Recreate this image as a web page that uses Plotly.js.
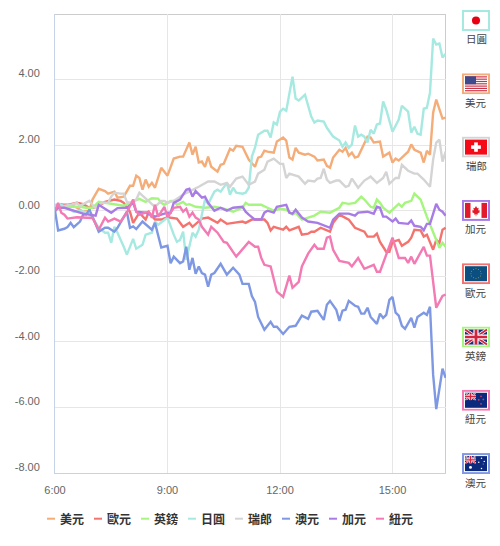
<!DOCTYPE html>
<html>
<head>
<meta charset="utf-8">
<script src="https://cdn.plot.ly/plotly-3.0.1.min.js"></script>
<style>html,body{margin:0;padding:0;background:#fff}#chart{width:500px;height:546px}</style>
</head>
<body>
<div id="chart"></div>
<script>
// Time is counted in 5-minute steps from 6:00.
var usdStep=[0,2,3,5,7,9,11,12,14,15,16,17,19,20,22,24,25,26,27,28,29,30,31,32,34,35,36,38,40,41,43,44,45,46,47,48,49,50,52,53,54,56,57,58,60,62,64,65,66,67,68,70,71,73,74,75,76,77,78,80,81,83,84,86,87,88,89,91,92,93,94,95,96,97,100,101,102,104,105,107,108,109,110,113,114,115,117,118,119,120,121,122,124,125];
var usdVal =[0,.2,.15,.18,.09,-.03,0,.34,.67,.63,.6,.52,.58,.4,.43,.76,.76,1.07,1,.64,.95,.73,.85,.7,1.31,1.19,1.07,1.59,1.65,1.65,2.08,1.71,1.95,1.47,1.5,1.34,1.65,1.34,1.19,1.4,1.43,1.89,1.83,1.98,1.95,1.56,1.34,1.62,1.65,1.83,1.8,1.77,2.11,2.23,2.14,1.62,1.56,1.92,1.77,1.71,1.74,1.65,1.53,1.56,1.37,1.31,1.62,1.86,1.8,1.92,1.68,1.77,1.62,1.65,2.26,2.23,2.08,2.11,1.65,1.77,1.47,1.59,1.53,1.8,2.02,1.86,1.77,1.47,1.83,1.71,2.99,3.39,2.81,2.84];

var eurStep=[0,2,4,7,9,11,13,15,16,19,21,22,24,25,27,29,30,32,34,36,39,41,43,44,47,49,50,52,53,55,57,60,61,63,65,67,68,69,70,73,74,75,78,79,81,82,83,85,88,89,91,94,96,99,100,102,103,104,106,107,108,110,111,113,114,115,117,118,119,121,122,123,124,125];
var eurVal =[0,.18,.18,.24,.2,.09,.1,.2,.27,.34,.3,.24,-.03,-.37,-.06,-.27,-.05,-.27,-.27,-.2,-.24,-.49,-.37,-.49,-.24,-.21,-.27,-.37,-.27,-.4,-.37,-.33,-.37,-.27,-.27,-.27,-.37,-.6,-.49,-.58,-.49,-.6,-.49,-.73,-.7,-.64,-.64,-.52,-.64,-.37,-.12,-.27,-.52,-.64,-.79,-.79,-.7,-.95,-1.25,-1.25,-.95,-.89,-1.07,-.95,-.82,-.58,-.6,-.79,-.73,-1.19,-.89,-.98,-.58,-.52];

var gbpStep=[0,2,5,8,10,12,14,16,19,22,24,27,29,31,33,34,35,37,38,39,41,42,43,45,48,51,54,57,60,61,62,66,68,70,72,74,76,77,79,81,83,85,88,91,92,94,96,98,99,101,102,103,104,105,107,110,111,112,114,115,117,119,121,123,124,125];
var gbpVal =[0,.1,.12,.12,.09,.09,.27,.24,.18,.15,.24,.36,.27,.38,.37,.24,.18,.3,.3,.18,.27,.18,.2,.12,.09,.12,.06,-.03,.1,.24,.18,.18,.09,0,.06,.03,-.12,-.06,-.27,-.21,-.15,-.03,-.06,.09,.24,.21,.24,.43,.34,.12,.09,.34,.24,.09,-.06,.21,.12,.24,.3,.52,.34,-.18,-.67,-1.13,-.98,-1.1];

var jpyStep=[0,2,6,8,10,12,14,16,17,18,19,20,22,23,25,26,28,29,31,32,33,35,36,38,39,40,41,42,44,45,46,48,49,51,52,53,55,56,57,58,60,61,62,63,64,65,67,68,69,70,71,72,73,74,76,77,78,80,81,82,83,84,86,87,89,91,92,93,94,95,96,97,98,99,100,101,102,103,104,105,106,108,110,111,113,114,115,116,117,118,119,120,121,122,123,124,125];
var jpyVal =[.18,.18,-.03,0,-.05,-.2,-.52,-.67,-.67,-.98,-.49,-.67,-1.1,-1.34,-.86,-1.16,-1.04,-.73,-.67,-.33,-.43,-.27,-.21,-.73,-.95,-.89,-.64,-1.5,-.67,-.79,-.58,.34,.2,.58,.64,.58,.85,.49,.7,.55,.52,.55,.7,1.65,1.92,2.32,2.44,2.44,2.23,2.69,2.63,3.02,3.11,3.05,4.09,3.42,3.36,3.54,3.24,2.87,2.69,2.75,2.72,2.53,2.26,2.14,1.95,2.08,1.92,2.02,2.6,2.26,2.32,2.26,2.08,2.47,2.35,2.63,2.66,3.33,3.08,2.41,2.78,3.2,3.02,2.38,2.56,2.35,2.32,3.11,3.14,3.6,5.25,5.07,5.1,4.67,4.79];

var chfStep=[0,3,5,7,8,11,12,13,15,17,18,19,21,22,23,24,26,27,28,30,32,34,35,36,38,41,43,46,49,51,53,55,56,58,60,62,64,65,67,68,70,72,73,74,75,78,80,81,83,84,85,86,87,88,90,91,93,94,95,97,99,101,103,105,106,107,109,110,111,113,115,116,118,120,121,122,123,124,125];
var chfVal =[0,.15,.18,.24,.15,.3,.18,.09,.24,.24,.43,.55,.52,.52,.27,.24,.34,.55,.46,.3,.12,.3,.3,.24,.3,.49,.58,.73,.89,.89,.79,.85,.73,.98,1.04,.79,.89,1.13,1.25,1.5,1.59,1.43,1.43,1,1.13,1.04,.82,.92,.89,.98,1,1.28,.95,.85,.92,.92,.73,.76,.98,.7,.92,1.04,.85,1,1.19,.82,1,1,1.4,1.22,1.13,1.13,.95,.73,1.56,2.08,2.17,1.5,1.8];

var audStep=[0,1,3,4,5,6,8,9,10,11,12,14,16,17,19,20,23,24,25,26,28,30,31,32,34,36,37,38,40,41,42,43,44,45,46,47,48,49,50,51,53,55,57,59,60,62,63,64,65,67,69,70,71,73,75,77,79,81,82,84,86,87,88,90,91,92,93,94,96,97,98,99,100,101,103,104,105,106,107,108,109,110,111,112,114,115,116,118,119,120,121,122,123,124,125];
var audVal =[0,-.6,-.55,-.5,-.37,-.5,-.33,-.12,-.12,.03,-.18,-.64,-.52,-.52,-.64,-.52,-.03,-.52,-.48,-.56,-.33,-.5,-.58,-.37,-1.12,-1.07,-1.6,-1.4,-1.6,-1.55,-1.1,-1.8,-1.44,-1.92,-1.7,-1.9,-1.95,-2.32,-1.95,-1.9,-1.62,-1.95,-1.74,-1.95,-2.23,-2.23,-2.6,-2.78,-3.24,-3.63,-3.39,-3.54,-3.54,-3.76,-3.54,-3.51,-3.2,-3.3,-3.08,-3.05,-3.33,-2.87,-2.75,-3.02,-3.36,-3.05,-3.02,-2.75,-2.9,-2.93,-3.14,-3.14,-2.96,-3.24,-3.45,-3.14,-3.27,-3.18,-2.72,-2.63,-3.11,-3.2,-3.51,-3.6,-3.27,-3.57,-3.24,-3.11,-3.18,-2.93,-5,-6.05,-5.47,-4.82,-5.1];

var cadStep=[0,1,3,5,7,9,11,13,14,16,18,20,23,25,26,29,32,34,36,37,38,40,42,43,44,45,47,48,49,51,53,55,57,60,61,62,63,64,66,67,68,70,71,74,75,76,77,79,81,84,88,89,91,94,96,97,100,102,103,104,105,106,108,109,110,113,114,115,117,118,119,120,122,123,124,125];
var cadVal =[0,.09,.09,.03,-.03,-.09,-.12,-.15,.18,.06,-.06,.08,.09,.24,-.03,-.06,-.18,-.12,-.06,-.06,.24,.34,.64,.67,.43,.6,.4,.43,.24,0,.09,0,.09,.12,-.03,-.12,-.21,-.27,-.27,-.06,0,-.06,.12,.18,-.06,-.09,.03,-.21,-.33,-.37,-.52,-.27,-.09,-.09,-.15,-.06,-.03,-.09,.12,.09,-.18,-.18,-.33,-.24,-.37,-.4,-.3,-.46,-.49,-.6,-.4,-.4,.21,.03,-.03,-.15];

var nzdStep=[0,1,2,3,4,7,12,14,16,17,19,21,23,25,26,27,30,31,32,33,35,36,38,40,41,42,43,44,45,46,47,49,50,52,54,55,58,60,62,64,65,66,67,69,70,71,73,75,76,78,79,81,83,84,86,87,88,89,91,94,95,97,99,102,103,104,108,110,112,113,114,115,118,119,120,121,122,124,125];
var nzdVal =[0,.24,-.06,-.12,-.24,-.2,-.22,-.58,-.21,-.33,-.24,-.33,-.06,.34,-.03,-.12,-.03,-.21,.18,-.18,.12,-.2,.09,.12,-.03,.06,-.18,-.06,-.21,-.27,-.49,-.73,-.49,-.67,-.95,-.98,-1.4,-1.19,-.95,-1.1,-1.1,-1.44,-1.65,-1.7,-2.1,-2.47,-2.63,-1.98,-2.35,-2.17,-1.7,-1.31,-1.04,-1.16,-1.16,-.82,-.79,-1.19,-1.53,-1.59,-1.7,-1.44,-1.77,-1.65,-1.86,-1.86,-.82,-1.44,-1.44,-1.59,-1.4,-1.62,-1.1,-1.37,-1.37,-2.1,-2.96,-2.6,-2.56];

var currencyNames=["美元","歐元","英鎊","日圓","瑞郎","澳元","加元","紐元"];
var currencySteps=[usdStep,eurStep,gbpStep,jpyStep,chfStep,audStep,cadStep,nzdStep];
var currencyValues=[usdVal,eurVal,gbpVal,jpyVal,chfVal,audVal,cadVal,nzdVal];
var currencyColors=["#f4ac78","#f4736e","#a6f57f","#a6e9e1","#d4d4d4","#7f98e3","#a87ce6","#f37ab3"];
var flagOrder=["日圓","美元","瑞郎","加元","歐元","英鎊","紐元","澳元"];
var xTickValues=[0,180,360,540];
var xTickLabels=["6:00","9:00","12:00","15:00"];
var yTickValues=[-8,-6,-4,-2,0,2,4];

var W=500,H=546,L=55,T=14,PW=391,PH=459;
function xp(px){return (px-L)/PW;}
function yp(py){return 1-(py-T)/PH;}
var minutesEnd=625.6;

var traces=currencyNames.map(function(n,i){
  return {type:"scatter",mode:"lines",name:n,
    x:currencySteps[i].map(function(s){return s*5;}),
    y:currencyValues[i],
    line:{color:currencyColors[i],width:2.4},
    hovertemplate:n+": %{y:.2f}<extra></extra>"};
});

var cjk='"Noto Sans CJK TC","Noto Sans CJK SC",sans-serif';
var shapes=[
  {type:"line",xref:"paper",yref:"paper",x0:xp(54),x1:xp(446),y0:yp(14.5),y1:yp(14.5),line:{color:"#cccccc",width:1},layer:"below"},
  {type:"line",xref:"paper",yref:"paper",x0:xp(445.5),x1:xp(445.5),y0:yp(14),y1:yp(474),line:{color:"#cccccc",width:1},layer:"below"}
];
var annotations=[];
// bottom legend
currencyNames.forEach(function(n,i){
  var x0=47+47*i;
  shapes.push({type:"line",xref:"paper",yref:"paper",x0:xp(x0),x1:xp(x0+8),y0:yp(518.7),y1:yp(518.7),line:{color:currencyColors[i],width:2}});
  annotations.push({xref:"paper",yref:"paper",x:xp(x0+13),y:yp(518.5),xanchor:"left",yanchor:"middle",showarrow:false,
    text:"<b>"+n+"</b>",font:{family:cjk,size:12,color:"#333333"},borderpad:0,borderwidth:0});
});

function stripes(){var s="";for(var k=0;k<7;k++){s+='<rect x="0" y="'+(k*2*17/13)+'" width="24" height="'+(17/13)+'" fill="#c8334a"/>';}return s;}
function ukFlag(w,h){
  return '<rect width="'+w+'" height="'+h+'" fill="#1b2f7a"/>'+
  '<path d="M0 0L'+w+' '+h+'M'+w+' 0L0 '+h+'" stroke="#fff" stroke-width="'+(h/4.5)+'"/>'+
  '<path d="M0 0L'+w+' '+h+'M'+w+' 0L0 '+h+'" stroke="#d2243c" stroke-width="'+(h/9)+'"/>'+
  '<path d="M'+(w/2)+' 0V'+h+'M0 '+(h/2)+'H'+w+'" stroke="#fff" stroke-width="'+(h/3)+'"/>'+
  '<path d="M'+(w/2)+' 0V'+h+'M0 '+(h/2)+'H'+w+'" stroke="#d2243c" stroke-width="'+(h/5.5)+'"/>';
}
function dots(list,c,r){return list.map(function(p){return '<circle cx="'+p[0]+'" cy="'+p[1]+'" r="'+(p[2]||r)+'" fill="'+c+'"/>';}).join("");}
var flagArt={
 "日圓":'<rect width="24" height="17" fill="#fff"/><circle cx="12" cy="8.5" r="4.4" fill="#e60012"/>',
 "美元":'<rect width="24" height="17" fill="#fff"/>'+stripes()+'<rect width="12" height="9" fill="#3f4a8c"/>',
 "瑞郎":'<rect width="24" height="17" fill="#f40b17"/><rect x="10" y="3.2" width="4" height="10.6" fill="#fff"/><rect x="6.7" y="6.5" width="10.6" height="4" fill="#fff"/>',
 "加元":'<rect width="24" height="17" fill="#fff"/><rect width="6" height="17" fill="#e21b2c"/><rect x="18" width="6" height="17" fill="#e21b2c"/><path d="M12 3.5l1.4 2.6 1.5-.6-.6 3 1.8-.6-.6 1.6 1 .7-2.8 1.9.3 1.2-1.7-.3v2h-.6v-2l-1.7.3.3-1.2-2.8-1.9 1-.7-.6-1.6 1.8.6-.6-3 1.5.6z" fill="#e21b2c"/>',
 "歐元":'<rect width="24" height="17" fill="#0b4f80"/>'+dots([[12,3],[14.8,3.8],[16.8,5.8],[17.5,8.5],[16.8,11.2],[14.8,13.2],[12,14],[9.2,13.2],[7.2,11.2],[6.5,8.5],[7.2,5.8],[9.2,3.8]],"#c9b53a",.55),
 "英鎊":ukFlag(24,17),
 "紐元":'<rect width="24" height="17" fill="#0c2a7d"/><svg x="0" y="0" width="12" height="8.5" viewBox="0 0 24 17">'+ukFlag(24,17)+'</svg>'+dots([[17.5,4],[15,8],[20,7.5],[17.5,12.5]],"#d8395a",1),
 "澳元":'<rect width="24" height="17" fill="#0c2a7d"/><svg x="0" y="0" width="12" height="8.5" viewBox="0 0 24 17">'+ukFlag(24,17)+'</svg>'+dots([[6,12.8,1.6],[18,2.5],[15,7],[21,6],[18,14],[19.8,9,.5]],"#ffffff",.8)
};
var images=[];
flagOrder.forEach(function(n,i){
  var idx=currencyNames.indexOf(n);
  var top=10+63.3*i;
  var svg='<svg xmlns="http://www.w3.org/2000/svg" width="28" height="21" viewBox="0 0 28 21">'+
    '<rect x="0" y="0" width="28" height="21" fill="#fff"/>'+
    '<g transform="translate(3,3) scale('+(22/24)+','+(15/17)+')">'+flagArt[n]+'</g>'+
    '<rect x="1" y="1" width="26" height="19" fill="none" stroke="'+currencyColors[idx]+'" stroke-width="2"/></svg>';
  images.push({source:"data:image/svg+xml;charset=utf-8,"+encodeURIComponent(svg),
    xref:"paper",yref:"paper",x:xp(462),y:yp(top),sizex:28/PW,sizey:21/PH,
    xanchor:"left",yanchor:"top",sizing:"stretch",layer:"above"});
  annotations.push({xref:"paper",yref:"paper",x:xp(476),y:yp(top+29),xanchor:"center",yanchor:"middle",showarrow:false,
    text:n,font:{family:cjk,size:10.5,color:"#444444"}});
});

var layout={
  width:W,height:H,
  margin:{l:L,r:W-L-PW,t:T,b:H-T-PH,pad:0},
  paper_bgcolor:"#ffffff",plot_bgcolor:"#ffffff",
  showlegend:false,
  font:{family:'"Liberation Sans",Arial,sans-serif',size:11,color:"#666666"},
  xaxis:{type:"linear",range:[0,minutesEnd],tickmode:"array",tickvals:xTickValues,ticktext:xTickLabels,
    showgrid:true,gridcolor:"#e6e6e6",gridwidth:1,zeroline:false,showline:true,linecolor:"#c4d3e6",linewidth:1,
    ticks:"",tickfont:{size:11,color:"#666666"},ticklabelstandoff:7},
  yaxis:{range:[-8,6],tickmode:"array",tickvals:yTickValues,ticktext:yTickValues.map(function(v){return v.toFixed(2);}),
    showgrid:true,gridcolor:"#e6e6e6",gridwidth:1,zeroline:false,showline:true,linecolor:"#c4d3e6",linewidth:1,
    ticks:"",tickfont:{size:11,color:"#666666"},ticklabelshift:-6,ticklabelstandoff:12},
  shapes:shapes,annotations:annotations,images:images
};
Plotly.newPlot("chart",traces,layout,{displayModeBar:false,staticPlot:false});
</script>
</body>
</html>
